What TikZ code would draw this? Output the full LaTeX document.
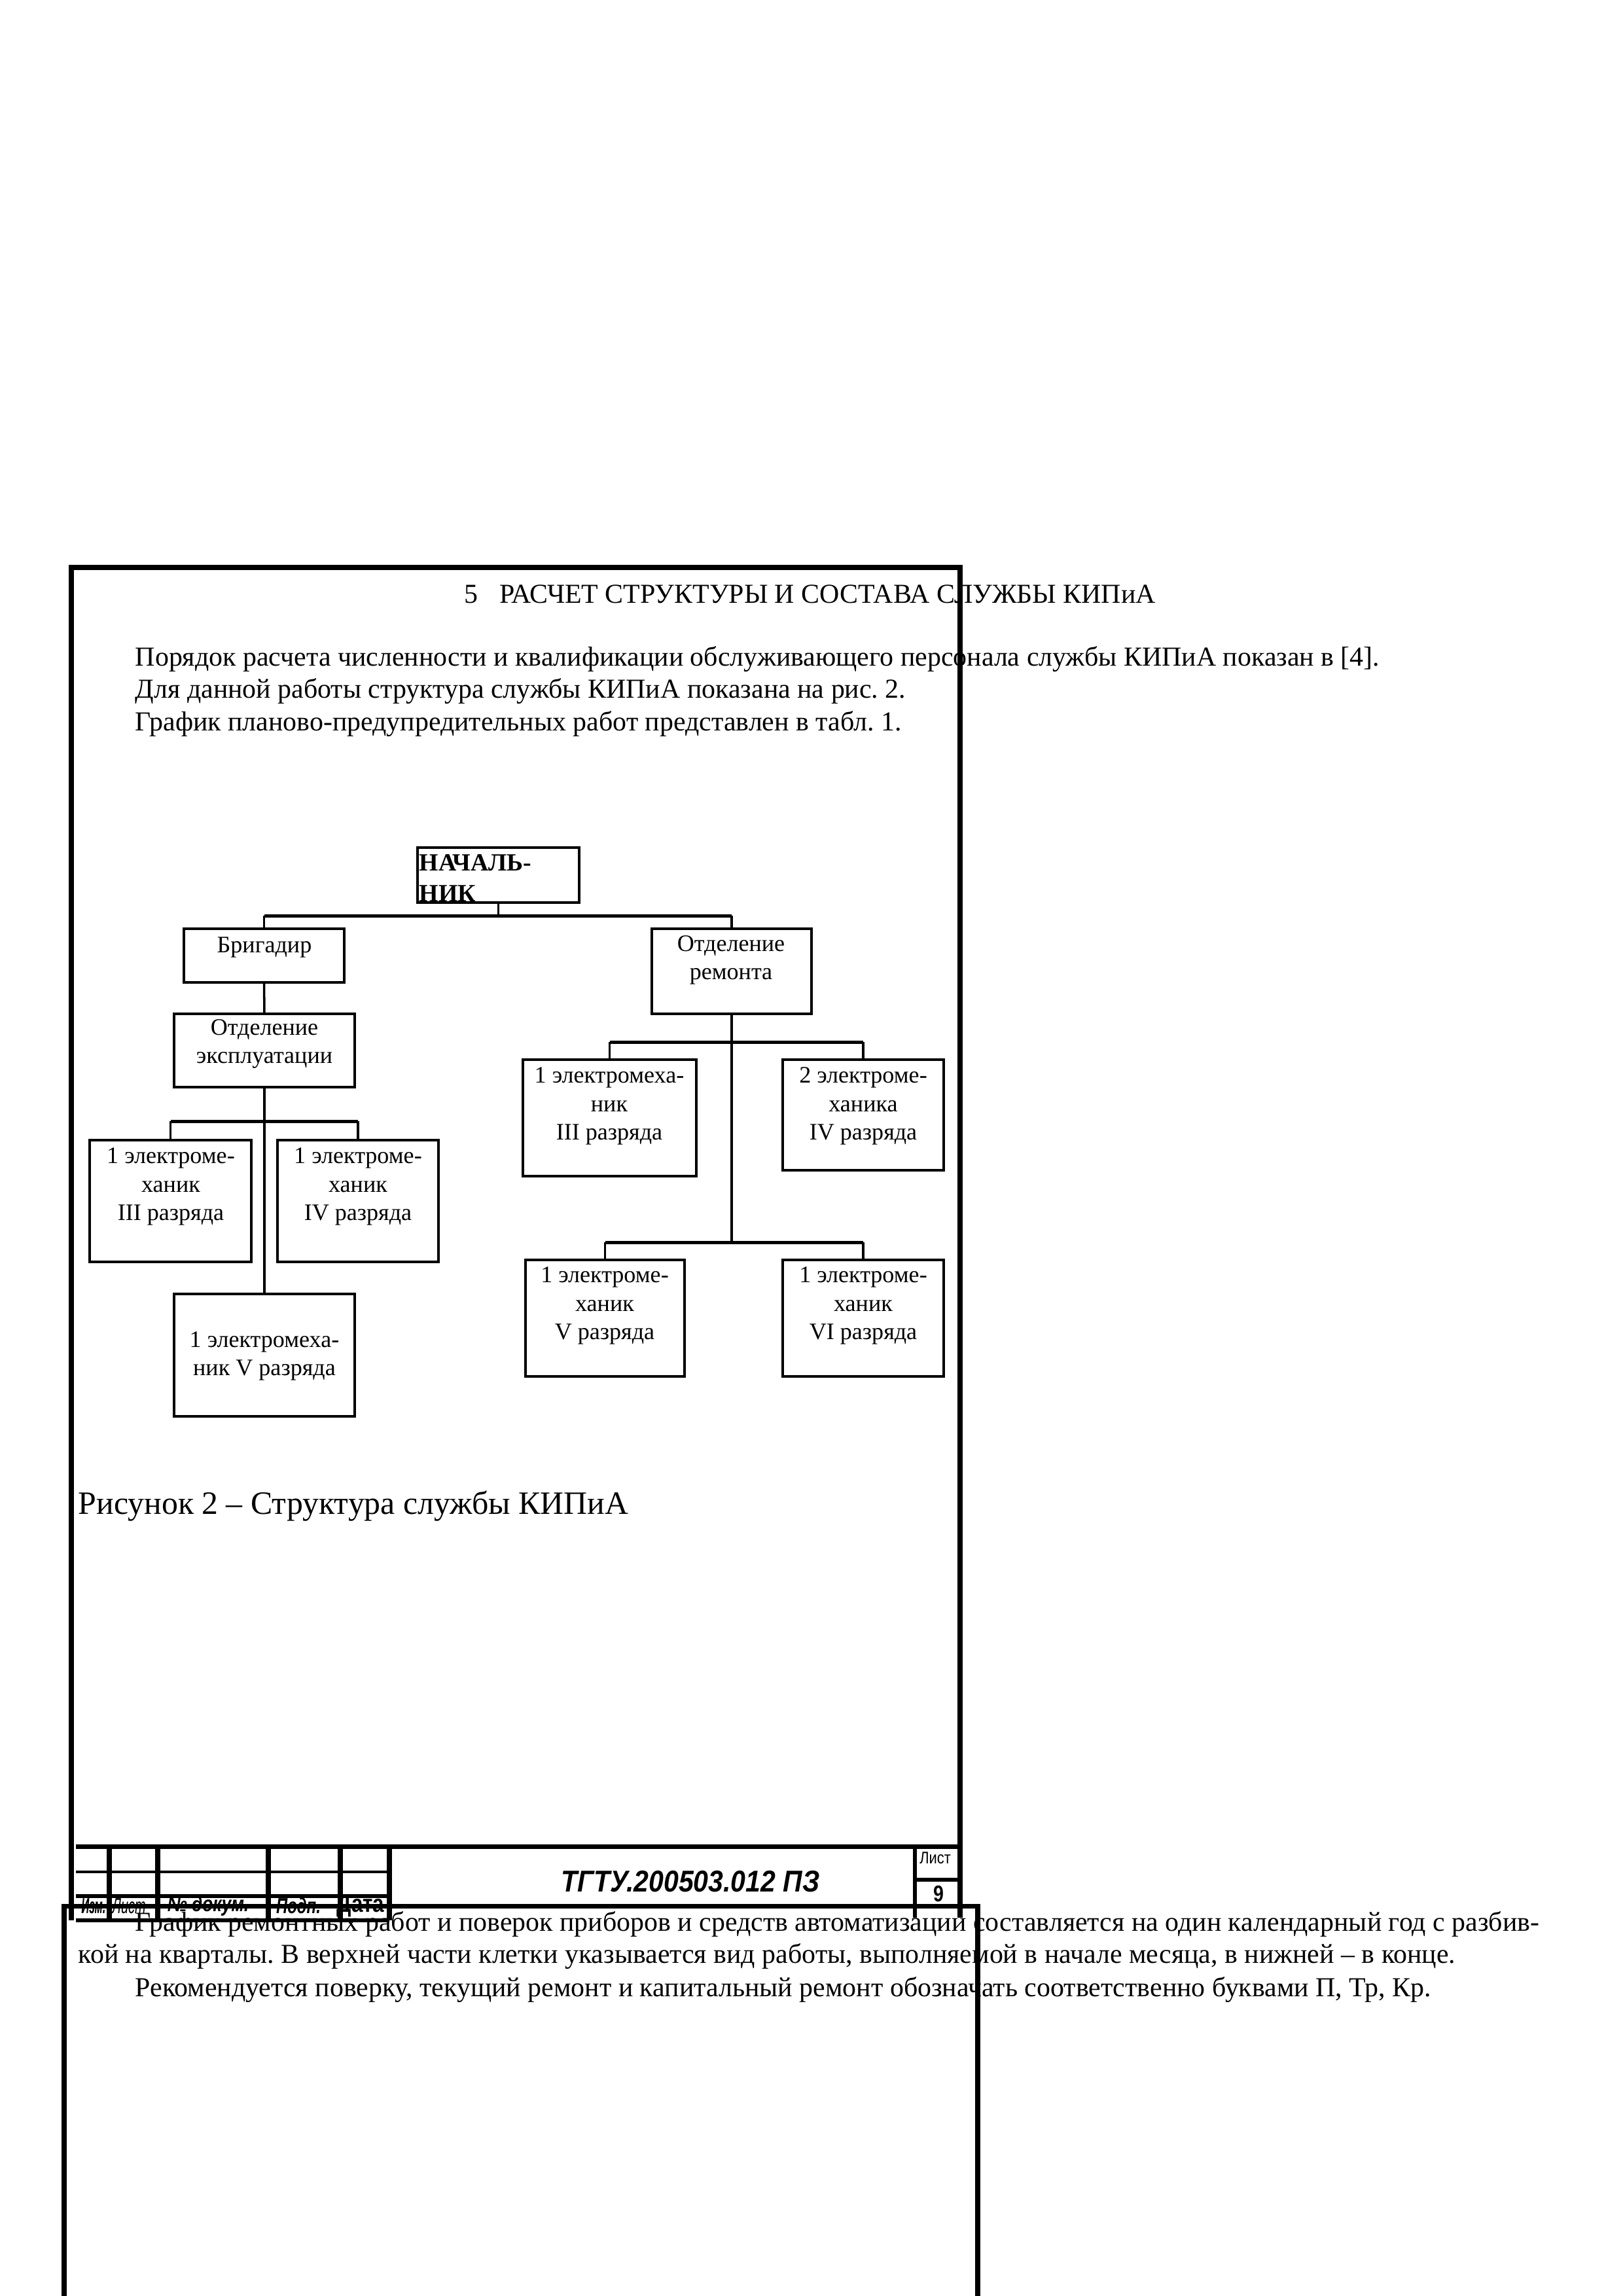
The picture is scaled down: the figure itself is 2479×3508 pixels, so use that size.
\documentclass[tikz,border=0pt]{standalone}
\usepackage{graphicx}
\usepackage{fontspec}
\setmainfont{Liberation Serif}
\newfontfamily\arialf{Liberation Sans}
\frenchspacing
\newcommand{\orgbox}[5]{\node[box,minimum width={(#4-#2)*0.0847116mm},minimum height={(#5-#3)*0.0847116mm}] (#1) at ({(#2+#4)/2},{(#3+#5)/2}) {};}
\begin{document}
\begin{tikzpicture}[x=0.0847116mm,y=-0.0847116mm,
  frame/.style={line width=1.7pt},
  tbk/.style={line width=1.7pt},
  tbthin/.style={line width=0.9pt},
  box/.style={draw,line width=0.95pt,rectangle,inner sep=0pt,outer sep=0pt},
  conn/.style={line width=0.85pt},
  bus/.style={line width=1.2pt},
  bt/.style={font=\fontsize{8.7}{10.4}\selectfont,align=center,inner sep=0pt},
  bb/.style={font=\fontsize{9.1}{11}\selectfont\bfseries,anchor=base west,inner sep=0pt},
  body/.style={font=\fontsize{10.1}{11.8}\selectfont,anchor=base west,inner sep=0pt},
  tbl/.style={font=\arialf\itshape\bfseries\fontsize{8}{9}\selectfont,inner sep=0pt,anchor=center},
]
\useasboundingbox (0,0) rectangle (2479,3508);
\fill[white] (0,0) rectangle (2479,3508);

% ---- page frame 1 ----
\draw[frame] (109,2934) -- (109,867) -- (1467,867) -- (1467,2930);

% ---- texts ----
\node[body] (head) at (709,921) {5\hspace{0.77em}РАСЧЕТ СТРУКТУРЫ И СОСТАВА СЛУЖБЫ КИПиА};
\node[body] (p1) at (206,1017) {Порядок расчета численности и квалификации обслуживающего персонала службы КИПиА показан в [4].};
\node[body] (p2) at (206,1066) {Для данной работы структура службы КИПиА показана на рис. 2.};
\node[body] (p3) at (206,1116) {График планово-предупредительных работ представлен в табл. 1.};

% ---- org chart boxes ----
\orgbox{nach}{638}{1295}{885}{1379}
\orgbox{brig}{281}{1419}{526}{1501}
\orgbox{otdrem}{996}{1419}{1240}{1549}
\orgbox{otdexp}{266}{1549}{542}{1661}
\orgbox{lone}{137}{1742}{384}{1928}
\orgbox{ltwo}{424}{1742}{670}{1928}
\orgbox{lthree}{266}{1977}{542}{2164}
\orgbox{rone}{799}{1619}{1064}{1797}
\orgbox{rtwo}{1196}{1619}{1442}{1788}
\orgbox{rthree}{803}{1925}{1046}{2103}
\orgbox{rfour}{1196}{1925}{1442}{2103}

% ---- box texts ----
\node[bb] (tnach1) at (640,1330) {НАЧАЛЬ-};
\node[bb] (tnach2) at (640,1377) {НИК};
\node[bt] (tbrig) at (404,1447) {Бригадир};
\node[bt] (totdrem) at (1117,1467) {Отделение\\ремонта};
\node[bt] (totdexp) at (404,1595) {Отделение\\эксплуатации};
\node[bt] (tlone) at (261,1813) {1 электроме-\\ханик\\III разряда};
\node[bt] (tltwo) at (547,1813) {1 электроме-\\ханик\\IV разряда};
\node[bt] (tlthree) at (404,2072) {1 электромеха-\\ник V разряда};
\node[bt] (trone) at (931,1690) {1 электромеха-\\ник\\III разряда};
\node[bt] (trtwo) at (1319,1690) {2 электроме-\\ханика\\IV разряда};
\node[bt] (trthree) at (924,1995) {1 электроме-\\ханик\\V разряда};
\node[bt] (trfour) at (1319,1995) {1 электроме-\\ханик\\VI разряда};

% ---- connectors ----
\coordinate (busa) at (0,1399);
\coordinate (busb) at (0,1713);
\coordinate (busc) at (0,1592);
\coordinate (busd) at (0,1898);
\draw[conn] (nach.south) -- (nach.south |- busa);
\draw[bus] (brig.north |- busa) -- (otdrem.north |- busa);
\draw[conn] (brig.north |- busa) -- (brig.north);
\draw[conn] (otdrem.north |- busa) -- (otdrem.north);
\draw[conn] (brig.south) -- (otdexp.north);
\draw[conn] (otdexp.south) -- (lthree.north);
\draw[bus] (lone.north |- busb) -- (ltwo.north |- busb);
\draw[conn] (lone.north |- busb) -- (lone.north);
\draw[conn] (ltwo.north |- busb) -- (ltwo.north);
\draw[conn] (otdrem.south) -- (otdrem.south |- busd);
\draw[bus] (rone.north |- busc) -- (rtwo.north |- busc);
\draw[conn] (rone.north |- busc) -- (rone.north);
\draw[conn] (rtwo.north |- busc) -- (rtwo.north);
\draw[bus] (rthree.north |- busd) -- (rfour.north |- busd);
\draw[conn] (rthree.north |- busd) -- (rthree.north);
\draw[conn] (rfour.north |- busd) -- (rfour.north);

% ---- caption ----
\node[body,font=\fontsize{12}{14}\selectfont] (cap) at (119,2313) {Рисунок 2 – Структура службы КИПиА};

% ---- title block ----
\draw[tbk] (116,2821) -- (1467,2821);
\draw[tbthin] (116,2860) -- (595,2860);
\draw[line width=1.3pt] (116,2897) -- (595,2897);
\draw[line width=1.4pt] (116,2934) -- (595,2934);
\foreach \xx in {167,241,410,520,595}{\draw[tbk] (\xx,2821) -- (\xx,2934);}
\draw[line width=1.6pt] (1398,2821) -- (1398,2930);
\draw[line width=1.3pt] (1398,2872) -- (1467,2872);
\node[font=\arialf\bfseries\itshape\fontsize{11.1}{13}\selectfont,inner sep=0pt] (tcode) at (1055,2875) {\scalebox{0.89}[1]{ТГТУ.200503.012 ПЗ}};
\node[font=\arialf\fontsize{6.2}{7}\selectfont,inner sep=0pt] (tlist) at (1429,2839) {\scalebox{0.85}[1]{Лист}};
\node[font=\arialf\bfseries\fontsize{8.4}{9}\selectfont,inner sep=0pt] (tnum) at (1434,2893) {\scalebox{0.82}[1]{9}};
\node[tbl] (lizm) at (143,2912) {\scalebox{0.5}[1]{Изм.}};
\node[tbl,font=\arialf\itshape\fontsize{8}{9}\selectfont] (llist) at (197,2912) {\scalebox{0.6}[1]{Лист}};
\node[tbl] (ldoc) at (318,2912) {\scalebox{0.79}[1]{№ докум.}};
\node[tbl] (lpodp) at (456,2912) {\scalebox{0.72}[1]{Подп.}};
\node[tbl,font=\arialf\bfseries\fontsize{9}{10}\selectfont] (ldata) at (551,2912) {\scalebox{0.84}[1]{Дата}};

% ---- page frame 2 ----
\draw[frame] (98,3530) -- (98,2912) -- (1494,2912) -- (1494,3530);
\node[body] (p4) at (206,2950) {График ремонтных работ и поверок приборов и средств автоматизации составляется на один календарный год с разбив-};
\node[body] (p5) at (119,2999) {кой на кварталы. В верхней части клетки указывается вид работы, выполняемой в начале месяца, в нижней – в конце.};
\node[body] (p6) at (206,3050) {Рекомендуется поверку, текущий ремонт и капитальный ремонт обозначать соответственно буквами П, Тр, Кр.};
\end{tikzpicture}
\end{document}
